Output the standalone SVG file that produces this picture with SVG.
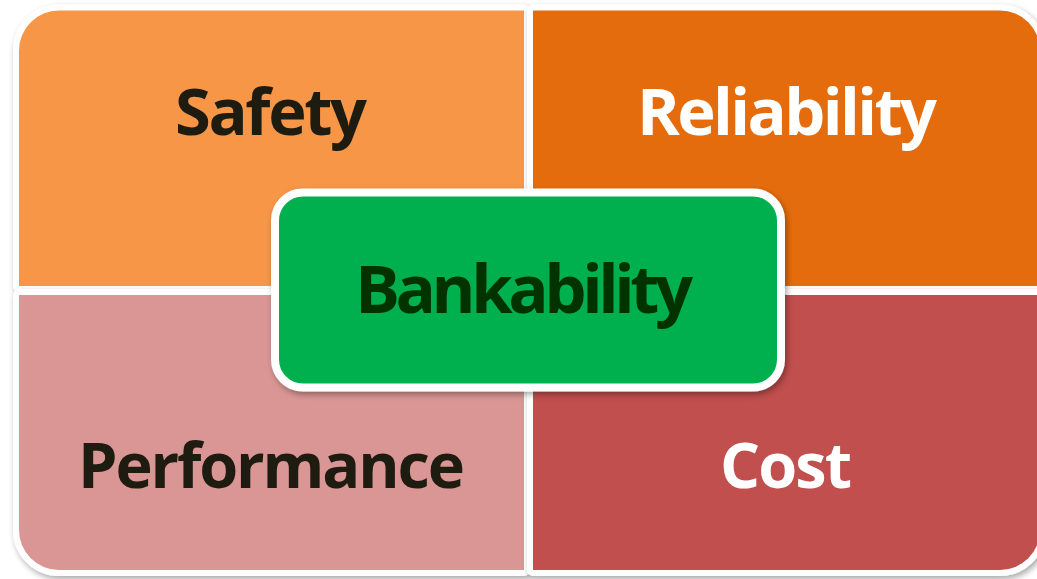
<svg xmlns="http://www.w3.org/2000/svg" width="1037" height="579" viewBox="0 0 1037 579">
  <defs>
    <filter id="shadow" x="-10%" y="-10%" width="120%" height="120%">
      <feGaussianBlur in="SourceAlpha" stdDeviation="3"/>
      <feOffset dx="2" dy="3" result="b"/>
      <feComponentTransfer><feFuncA type="linear" slope="0.35"/></feComponentTransfer>
      <feMerge><feMergeNode/><feMergeNode in="SourceGraphic"/></feMerge>
    </filter>
  </defs>
  <style>
    .quad { stroke: #ffffff; stroke-width: 12; paint-order: stroke; stroke-linejoin: round; filter: url(#shadow); }
    .lbl { font-family: "Open Sans", "Noto Sans", "Liberation Sans", sans-serif; font-weight: bold; text-anchor: middle; }
    .dark { fill: #1e1c11; }
    .light { fill: #ffffff; }
  </style>
  <rect width="1037" height="579" fill="#ffffff"/>
  <g id="safety">
    <path class="quad" d="M19,286 V50.5 A40,40 0 0 1 59,10.5 H524 V286 Z" fill="#F79646"/>
    <text class="lbl dark" x="271" y="135" font-size="65" textLength="192">Safety</text>
  </g>
  <g id="reliability">
    <path class="quad" d="M533,10.5 H1000 A40,40 0 0 1 1040,50.5 V286 H533 Z" fill="#E46C0A"/>
    <text class="lbl light" x="787" y="135" font-size="65" textLength="300">Reliability</text>
  </g>
  <g id="performance">
    <path class="quad" d="M19,295 H524 V570 H59 A40,40 0 0 1 19,530 Z" fill="#D99694"/>
    <text class="lbl dark" x="271.5" y="488" font-size="63" textLength="387">Performance</text>
  </g>
  <g id="cost">
    <path class="quad" d="M533,295 H1040 V530 A40,40 0 0 1 1000,570 H533 Z" fill="#C0504D"/>
    <text class="lbl light" x="786" y="488" font-size="63" textLength="132">Cost</text>
  </g>
  <g id="bankability">
    <rect x="275" y="192.5" width="506" height="195" rx="28" ry="28" fill="#00B050" stroke="#ffffff" stroke-width="8" filter="url(#shadow)"/>
    <text class="lbl" x="524" y="313" font-size="67" textLength="338" fill="#003300">Bankability</text>
  </g>
  <g id="connectors"/>
</svg>
